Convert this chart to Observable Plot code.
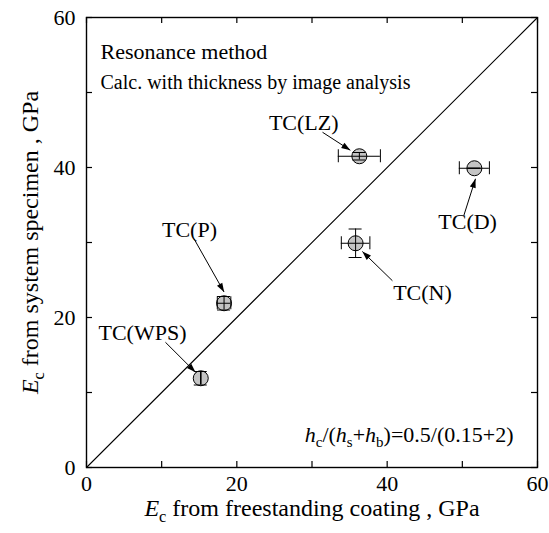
<!DOCTYPE html>
<html><head><meta charset="utf-8">
<script src="https://cdn.jsdelivr.net/npm/d3@7"></script>
<script src="https://cdn.jsdelivr.net/npm/@observablehq/plot@0.6"></script>
<style>
html,body{margin:0;padding:0;background:#fff;}
#chart{width:549px;height:533px;}
</style></head><body><div id="chart"></div>
<script>
// ---- data ----
const specimens = ["TC(WPS)", "TC(P)", "TC(LZ)", "TC(N)", "TC(D)"];
const freeE     = [15.2, 18.3, 36.3, 35.8, 51.6];   // x: E_c from freestanding coating
const systemE   = [11.9, 21.9, 41.5, 29.9, 39.9];   // y: E_c from system specimen
const freeErr   = [0.0, 0.9, 2.8, 1.9, 2.0];
const systemErr = [0.9, 0.9, 0.5, 1.9, 0.0];
const labelX    = [7.45, 13.7, 28.9, 44.7, 50.7];
const labelY    = [18.0, 31.7, 46.0, 23.3, 32.7];
const arrowX1   = [10.5, 14.3, 31.4, 40.7, 50.2];
const arrowY1   = [16.7, 30.5, 44.7, 24.9, 33.6];
const arrowX2   = [14.5, 18.3, 35.1, 36.7, 51.75];
const arrowY2   = [12.7, 23.4, 42.3, 28.8, 38.5];
const tickValues  = [0, 10, 20, 30, 40, 50, 60];
const tickLabels  = [0, 20, 40, 60];
const axisDomain  = [0, 60];
const diagX = [0, 60];
const diagY = [0, 60];
const noteLines = ["Resonance method", "Calc. with thickness by image analysis"];
const formulaText = "hc/(hs+hb)=0.5/(0.15+2)";
const xTitle = "Ec from freestanding coating , GPa";
const yTitle = "Ec from system specimen , GPa";

// ---- layout ----
const W = 549, H = 533;
const mL = 86, mR = 12, mT = 17, mB = 66;
const kx = (W - mL - mR) / (axisDomain[1] - axisDomain[0]);
const ky = (H - mT - mB) / (axisDomain[1] - axisDomain[0]);
const serif = "'Liberation Serif', 'Times New Roman', serif";

const points = specimens.map((name, i) => ({
  name, x: freeE[i], y: systemE[i], xe: freeErr[i], ye: systemErr[i],
  lx: labelX[i], ly: labelY[i]
}));
const arrows = specimens.map((name, i) => ({
  x1: arrowX1[i], y1: arrowY1[i], x2: arrowX2[i], y2: arrowY2[i],
  angle: Math.atan2((arrowX2[i] - arrowX1[i]) * kx, (arrowY2[i] - arrowY1[i]) * ky) * 180 / Math.PI
}));
const diag = diagX.map((x, i) => ({x, y: diagY[i]}));

const arrowHead = {
  draw(context, size) {
    const r = Math.sqrt(size / Math.PI);
    context.moveTo(0, 0);
    context.lineTo(-0.85 * r, 2.5 * r);
    context.lineTo(0.85 * r, 2.5 * r);
    context.closePath();
  }
};

const cap = 6.5;

const plot = Plot.plot({
  width: W, height: H,
  marginLeft: mL, marginRight: mR, marginTop: mT, marginBottom: mB,
  x: {domain: axisDomain, axis: null},
  y: {domain: axisDomain, axis: null},
  style: {fontFamily: serif, fontSize: "22px", color: "black", background: "white"},
  marks: [
    Plot.line(diag, {x: "x", y: "y", stroke: "black", strokeWidth: 1.1}),
    // inward ticks on all four sides
    Plot.ruleX(tickValues, {x: d => d, y1: axisDomain[0], y2: axisDomain[0], insetBottom: 6, stroke: "black", strokeWidth: 1.2}),
    Plot.ruleX(tickValues, {x: d => d, y1: axisDomain[1], y2: axisDomain[1], insetTop: 6, stroke: "black", strokeWidth: 1.2}),
    Plot.ruleY(tickValues, {y: d => d, x1: axisDomain[0], x2: axisDomain[0], insetLeft: 6, stroke: "black", strokeWidth: 1.2}),
    Plot.ruleY(tickValues, {y: d => d, x1: axisDomain[1], x2: axisDomain[1], insetRight: 6, stroke: "black", strokeWidth: 1.2}),
    // tick labels
    Plot.text(tickLabels, {x: d => d, frameAnchor: "bottom", lineAnchor: "top", dy: 8, text: d => String(d), fontSize: 22, fill: "black"}),
    Plot.text(tickLabels, {y: d => d, frameAnchor: "left", textAnchor: "end", dx: -11, text: d => String(d), fontSize: 22, fill: "black"}),
    // points
    Plot.dot(points, {x: "x", y: "y", r: 7.5, fill: "#c4c4c4", stroke: "black", strokeWidth: 1}),
    // error bars
    Plot.ruleY(points, {y: "y", x1: d => d.x - d.xe, x2: d => d.x + d.xe, stroke: "black", strokeWidth: 1}),
    Plot.ruleX(points, {x: "x", y1: d => d.y - d.ye, y2: d => d.y + d.ye, stroke: "black", strokeWidth: 1}),
    Plot.ruleX(points, {x: d => d.x - d.xe, y1: "y", y2: "y", insetTop: cap, insetBottom: cap, stroke: "black", strokeWidth: 1}),
    Plot.ruleX(points, {x: d => d.x + d.xe, y1: "y", y2: "y", insetTop: cap, insetBottom: cap, stroke: "black", strokeWidth: 1}),
    Plot.ruleY(points, {y: d => d.y - d.ye, x1: "x", x2: "x", insetLeft: cap, insetRight: cap, stroke: "black", strokeWidth: 1}),
    Plot.ruleY(points, {y: d => d.y + d.ye, x1: "x", x2: "x", insetLeft: cap, insetRight: cap, stroke: "black", strokeWidth: 1}),
    // annotation arrows
    Plot.link(arrows, {x1: "x1", y1: "y1", x2: "x2", y2: "y2", stroke: "black", strokeWidth: 1}),
    Plot.dot(arrows, {x: "x2", y: "y2", symbol: arrowHead, r: 3.6, rotate: "angle", fill: "black", stroke: "none"}),
    // labels
    Plot.text(points, {x: "lx", y: "ly", text: "name", fontSize: 22, fill: "black"}),
    // notes
    Plot.text([noteLines[0]], {frameAnchor: "top-left", textAnchor: "start", dx: 14, dy: 26, fontSize: 22, fill: "black"}),
    Plot.text([noteLines[1]], {frameAnchor: "top-left", textAnchor: "start", dx: 14, dy: 57, fontSize: 20, fill: "black"}),
    Plot.text([formulaText], {frameAnchor: "bottom-right", textAnchor: "end", dx: -24, dy: -26, fontSize: 22, fill: "black"}),
    // axis titles
    Plot.text([xTitle], {frameAnchor: "bottom", textAnchor: "middle", dy: 48, fontSize: 24, fill: "black"}),
    Plot.text([yTitle], {frameAnchor: "left", textAnchor: "middle", dx: -56, rotate: -90, fontSize: 24, fill: "black"}),
    Plot.frame({stroke: "black", strokeWidth: 1.4})
  ]
});

// rich text (italic symbols and subscripts)
function richText(root, original, F, parts) {
  d3.select(root).selectAll("text").filter(function() { return this.textContent === original; }).each(function() {
    const t = d3.select(this);
    t.text(null);
    let shift = 0;
    for (const p of parts) {
      const ts = t.append("tspan").text(p.t);
      if (p.i) ts.attr("font-style", "italic");
      const target = p.sub ? 0.26 * F : 0;
      if (target !== shift) { ts.attr("dy", target - shift); shift = target; }
      if (p.sub) ts.attr("font-size", 0.68 * F);
    }
  });
}
richText(plot, xTitle, 24, [{t: "E", i: true}, {t: "c", sub: true}, {t: " from freestanding coating , GPa"}]);
richText(plot, yTitle, 24, [{t: "E", i: true}, {t: "c", sub: true}, {t: " from system specimen , GPa"}]);
richText(plot, formulaText, 22, [
  {t: "h", i: true}, {t: "c", sub: true}, {t: "/("},
  {t: "h", i: true}, {t: "s", sub: true}, {t: "+"},
  {t: "h", i: true}, {t: "b", sub: true}, {t: ")=0.5/(0.15+2)"}
]);

document.getElementById("chart").appendChild(plot);
</script>
</body></html>
